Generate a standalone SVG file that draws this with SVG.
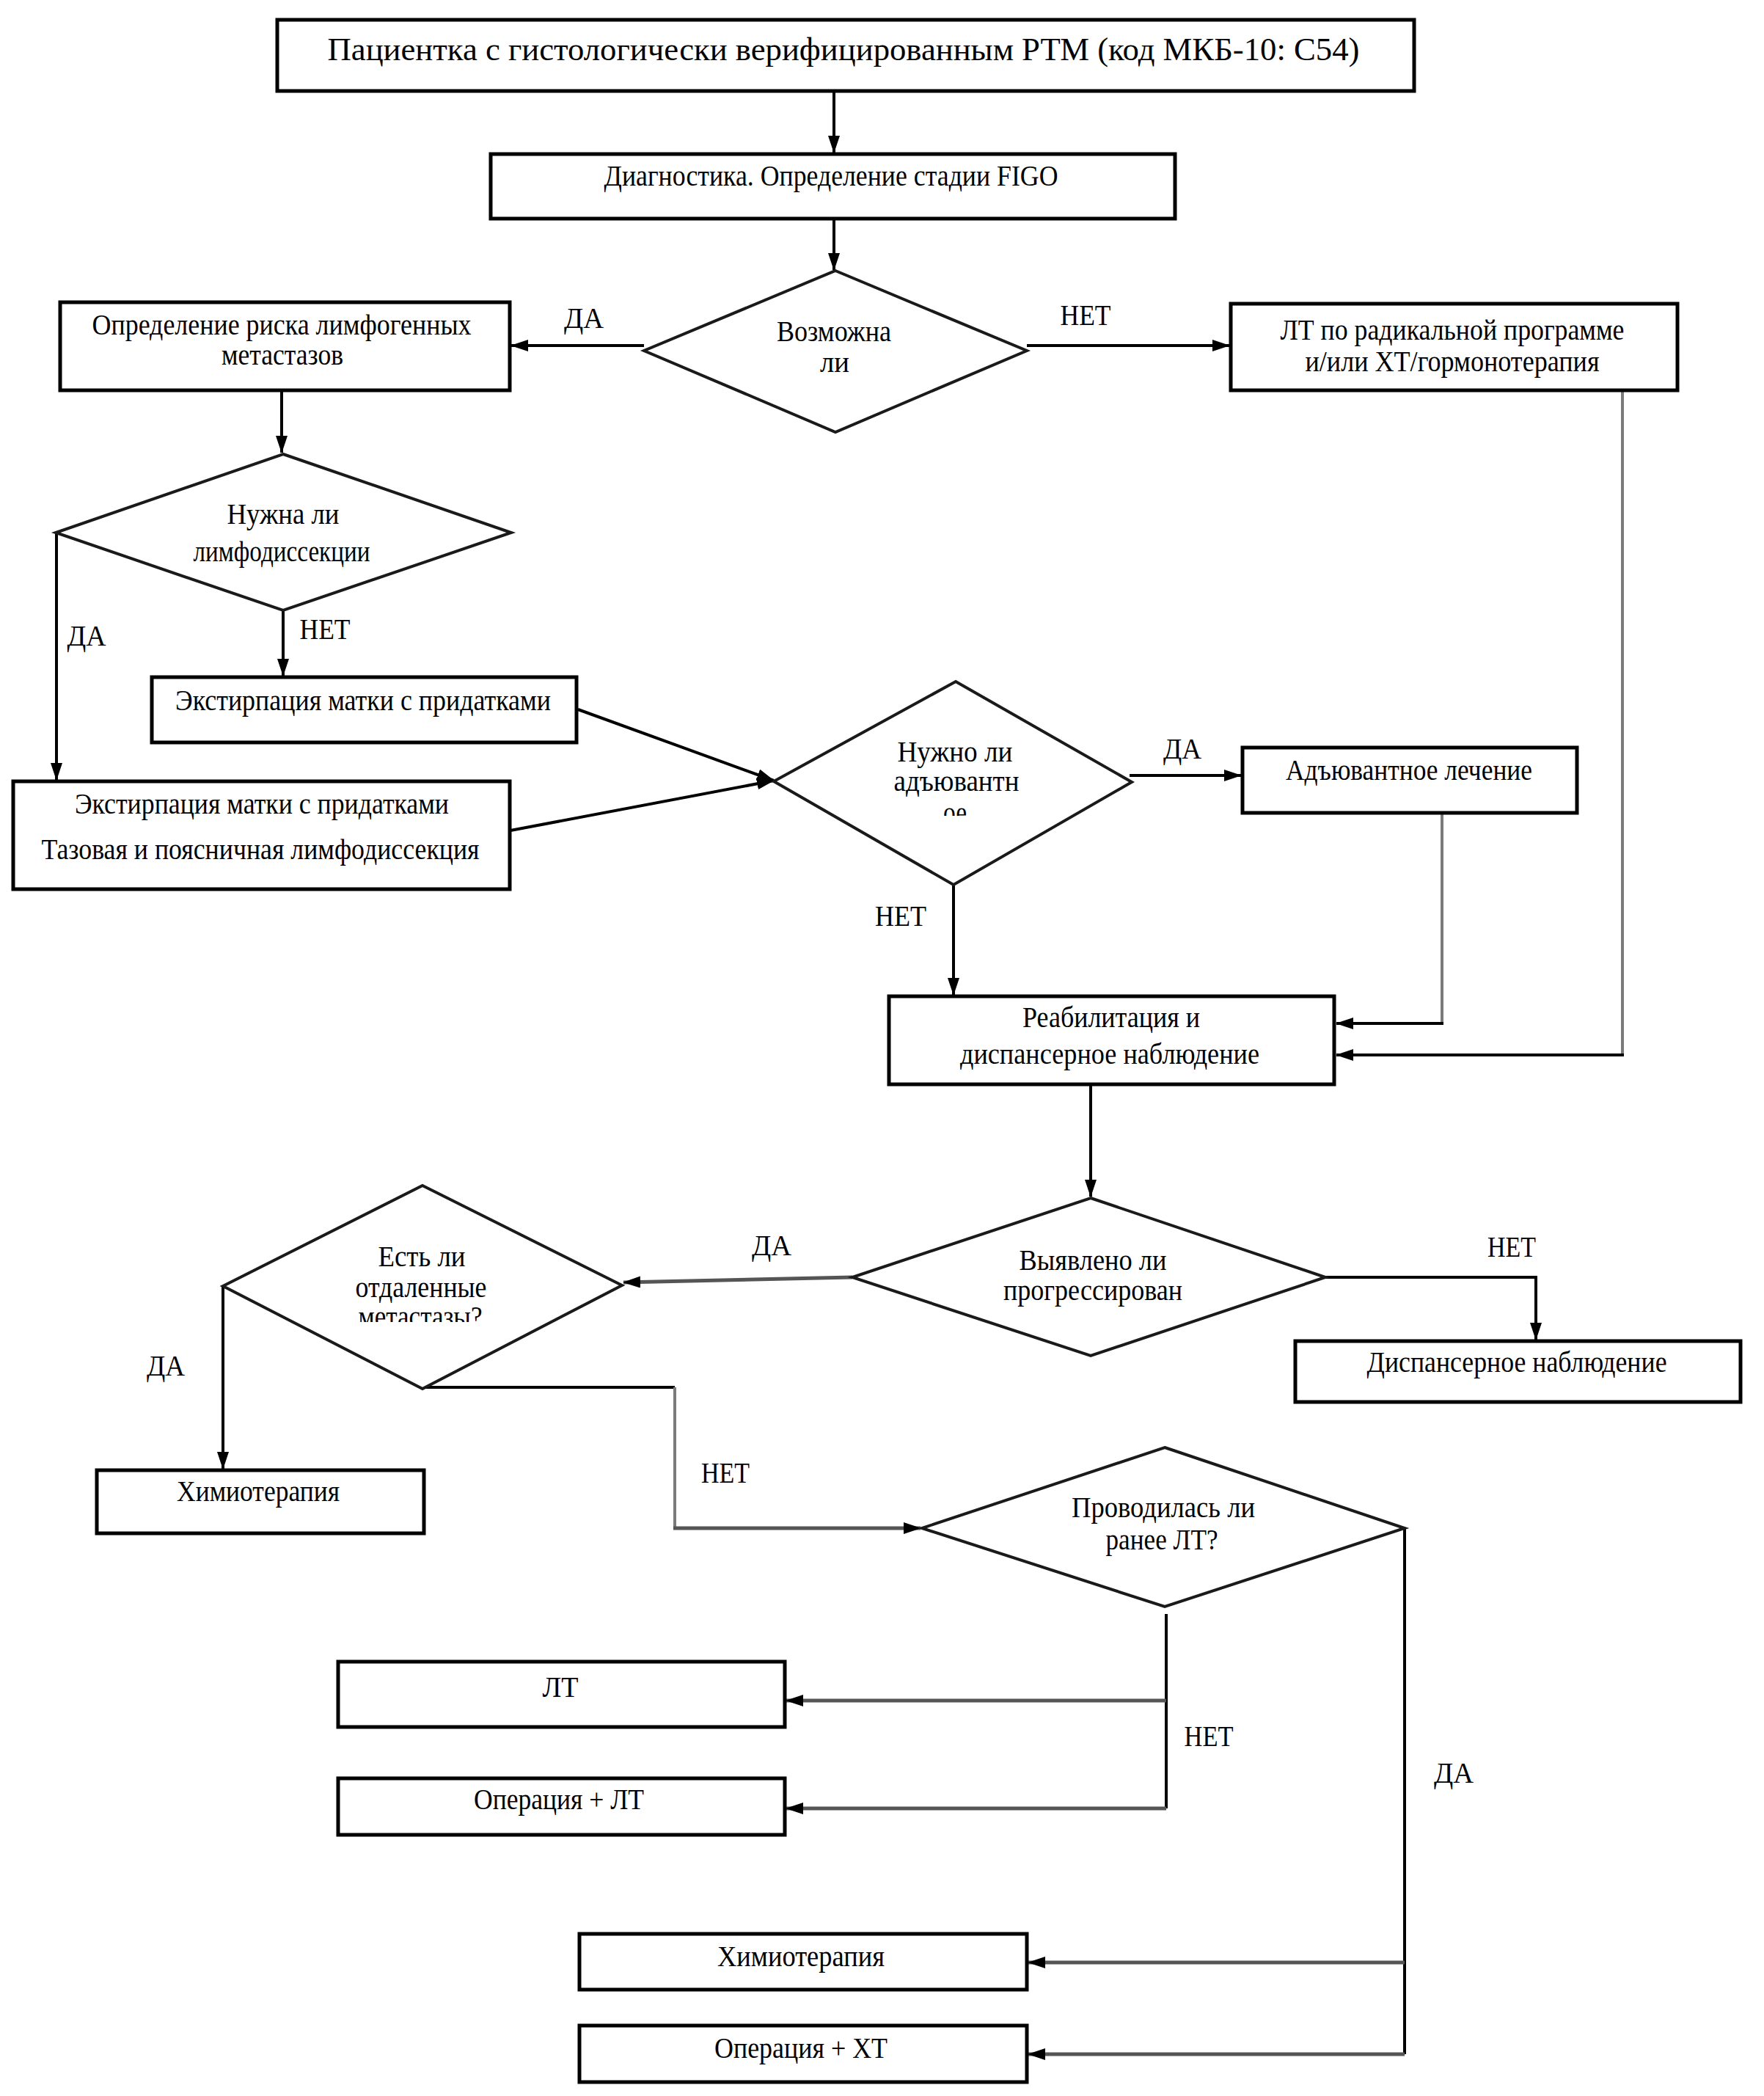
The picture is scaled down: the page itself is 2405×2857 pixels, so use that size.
<svg xmlns="http://www.w3.org/2000/svg" width="2405" height="2857" viewBox="0 0 2405 2857">
<style>
.bx{fill:#fff;stroke:#000;stroke-width:5}
.dm{fill:#fff;stroke:#1a1a1a;stroke-width:4}
.t{font-family:"Liberation Serif","Times New Roman",serif;font-size:40px;fill:#000;text-anchor:middle}
.c{fill:none;stroke:#000;stroke-width:4}
.g{fill:none;stroke:#7a7a7a;stroke-width:4}
.s{fill:none;stroke:#555;stroke-width:5}
</style>
<defs>
<marker id="ah" viewBox="0 0 24 16" refX="23" refY="8" markerWidth="24" markerHeight="16" markerUnits="userSpaceOnUse" orient="auto">
<path d="M0,0 L24,8 L0,16 z" fill="#000"/>
</marker>
<clipPath id="clip3"><rect x="1100" y="990" width="400" height="122"/></clipPath>
<clipPath id="clip5"><rect x="400" y="1680" width="350" height="122"/></clipPath>
</defs>
<rect width="2405" height="2857" fill="#fff"/>

<g id="connectors">
<path class="c" d="M1137,124 V208" marker-end="url(#ah)"/>
<path class="c" d="M1137,298 V368" marker-end="url(#ah)"/>
<path class="c" d="M878,471 H697" marker-end="url(#ah)"/>
<path class="c" d="M1400,471 H1676" marker-end="url(#ah)"/>
<path class="c" d="M384,532 V617" marker-end="url(#ah)"/>
<path class="c" d="M77,726 V1063" marker-end="url(#ah)"/>
<path class="c" d="M386,832 V921" marker-end="url(#ah)"/>
<path class="c" d="M788,967 L1055,1064" marker-end="url(#ah)"/>
<path class="c" d="M696,1132 L1055,1064" marker-end="url(#ah)"/>
<path class="c" d="M1540,1057 H1692" marker-end="url(#ah)"/>
<path class="c" d="M1300,1206 V1356" marker-end="url(#ah)"/>
<path class="g" d="M1966,1108 V1395"/>
<path class="c" d="M1968,1395 H1822" marker-end="url(#ah)"/>
<path class="g" d="M2212,532 V1438"/>
<path class="c" d="M2214,1438 H1822" marker-end="url(#ah)"/>
<path class="c" d="M1487,1478 V1631" marker-end="url(#ah)"/>
<path class="s" d="M1162,1741 L850,1748" marker-end="url(#ah)"/>
<path class="c" d="M1807,1741 H2094 V1826" marker-end="url(#ah)"/>
<path class="c" d="M304,1753 V2002" marker-end="url(#ah)"/>
<path class="c" d="M576,1891 H920"/>
<path class="g" d="M920,1891 V2083"/>
<path class="s" d="M918,2083 H1255" marker-end="url(#ah)"/>
<path class="c" d="M1590,2200 V2465"/>
<path class="s" d="M1590,2318 H1072" marker-end="url(#ah)"/>
<path class="s" d="M1590,2465 H1072" marker-end="url(#ah)"/>
<path class="c" d="M1915,2083 V2800"/>
<path class="s" d="M1915,2675 H1402" marker-end="url(#ah)"/>
<path class="s" d="M1915,2800 H1402" marker-end="url(#ah)"/>
</g>

<g id="labels">
<text class="t" x="796" y="447" textLength="54" lengthAdjust="spacingAndGlyphs">ДА</text>
<text class="t" x="1480" y="443" textLength="69" lengthAdjust="spacingAndGlyphs">НЕТ</text>
<text class="t" x="118" y="880" textLength="53" lengthAdjust="spacingAndGlyphs">ДА</text>
<text class="t" x="443" y="871" textLength="69" lengthAdjust="spacingAndGlyphs">НЕТ</text>
<text class="t" x="1612" y="1034" textLength="52" lengthAdjust="spacingAndGlyphs">ДА</text>
<text class="t" x="1228" y="1262" textLength="70" lengthAdjust="spacingAndGlyphs">НЕТ</text>
<text class="t" x="1052" y="1711" textLength="54" lengthAdjust="spacingAndGlyphs">ДА</text>
<text class="t" x="2061" y="1713" textLength="66" lengthAdjust="spacingAndGlyphs">НЕТ</text>
<text class="t" x="226" y="1875" textLength="52" lengthAdjust="spacingAndGlyphs">ДА</text>
<text class="t" x="989" y="2021" textLength="66" lengthAdjust="spacingAndGlyphs">НЕТ</text>
<text class="t" x="1648" y="2380" textLength="67" lengthAdjust="spacingAndGlyphs">НЕТ</text>
<text class="t" x="1982" y="2430" textLength="54" lengthAdjust="spacingAndGlyphs">ДА</text>
</g>

<g id="n1"><rect class="bx" x="378" y="27" width="1550" height="97"/>
<text class="t" x="1150" y="82" style="font-size:44px" textLength="1407" lengthAdjust="spacingAndGlyphs">Пациентка с гистологически верифицированным РТМ (код МКБ-10: С54)</text></g>

<g id="n2"><rect class="bx" x="669" y="210" width="933" height="88"/>
<text class="t" x="1133" y="253" textLength="619" lengthAdjust="spacingAndGlyphs">Диагностика. Определение стадии FIGO</text></g>

<g id="n3"><polygon class="dm" points="1139,369 1400,478 1139,589 878,478"/>
<text class="t" x="1137" y="465" textLength="156" lengthAdjust="spacingAndGlyphs">Возможна</text>
<text class="t" x="1138" y="507" textLength="40" lengthAdjust="spacingAndGlyphs">ли</text></g>

<g id="n4"><rect class="bx" x="82" y="412" width="613" height="120"/>
<text class="t" x="384" y="456" textLength="517" lengthAdjust="spacingAndGlyphs">Определение риска лимфогенных</text>
<text class="t" x="385" y="497" textLength="166" lengthAdjust="spacingAndGlyphs">метастазов</text></g>

<g id="n5"><rect class="bx" x="1678" y="414" width="609" height="118"/>
<text class="t" x="1980" y="463" textLength="469" lengthAdjust="spacingAndGlyphs">ЛТ по радикальной программе</text>
<text class="t" x="1980" y="506" textLength="401" lengthAdjust="spacingAndGlyphs">и/или ХТ/гормонотерапия</text></g>

<g id="n6"><polygon class="dm" points="386,619 697,726 386,832 76,726"/>
<text class="t" x="386" y="714" textLength="153" lengthAdjust="spacingAndGlyphs">Нужна ли</text>
<text class="t" x="384" y="765" textLength="241" lengthAdjust="spacingAndGlyphs">лимфодиссекции</text></g>

<g id="n7"><rect class="bx" x="207" y="923" width="579" height="89"/>
<text class="t" x="495" y="968" textLength="512" lengthAdjust="spacingAndGlyphs">Экстирпация матки с придатками</text></g>

<g id="n8"><rect class="bx" x="18" y="1065" width="677" height="147"/>
<text class="t" x="357" y="1109" textLength="510" lengthAdjust="spacingAndGlyphs">Экстирпация матки с придатками</text>
<text class="t" x="355" y="1171" textLength="597" lengthAdjust="spacingAndGlyphs">Тазовая и поясничная лимфодиссекция</text></g>

<g id="n9"><polygon class="dm" points="1303,929 1543,1066 1300,1206 1055,1065"/>
<text class="t" x="1302" y="1038" textLength="157" lengthAdjust="spacingAndGlyphs">Нужно ли</text>
<text class="t" x="1304" y="1078" textLength="171" lengthAdjust="spacingAndGlyphs">адъювантн</text>
<text class="t" x="1302" y="1121" clip-path="url(#clip3)" textLength="32" lengthAdjust="spacingAndGlyphs">ое</text></g>

<g id="n10"><rect class="bx" x="1694" y="1019" width="456" height="89"/>
<text class="t" x="1921" y="1063" textLength="336" lengthAdjust="spacingAndGlyphs">Адъювантное лечение</text></g>

<g id="n11"><rect class="bx" x="1212" y="1358" width="607" height="120"/>
<text class="t" x="1515" y="1400" textLength="242" lengthAdjust="spacingAndGlyphs">Реабилитация и</text>
<text class="t" x="1513" y="1450" textLength="408" lengthAdjust="spacingAndGlyphs">диспансерное наблюдение</text></g>

<g id="n12"><polygon class="dm" points="1487,1633 1807,1741 1487,1848 1162,1741"/>
<text class="t" x="1490" y="1731" textLength="201" lengthAdjust="spacingAndGlyphs">Выявлено ли</text>
<text class="t" x="1490" y="1772" textLength="244" lengthAdjust="spacingAndGlyphs">прогрессирован</text></g>

<g id="n13"><rect class="bx" x="1766" y="1828" width="607" height="83"/>
<text class="t" x="2068" y="1870" textLength="409" lengthAdjust="spacingAndGlyphs">Диспансерное наблюдение</text></g>

<g id="n14"><polygon class="dm" points="576,1616 848,1752 576,1893 304,1753"/>
<text class="t" x="575" y="1726" textLength="119" lengthAdjust="spacingAndGlyphs">Есть ли</text>
<text class="t" x="574" y="1768" textLength="179" lengthAdjust="spacingAndGlyphs">отдаленные</text>
<text class="t" x="573" y="1808" clip-path="url(#clip5)" textLength="169" lengthAdjust="spacingAndGlyphs">метастазы?</text></g>

<g id="n15"><rect class="bx" x="132" y="2004" width="446" height="86"/>
<text class="t" x="352" y="2046" textLength="222" lengthAdjust="spacingAndGlyphs">Химиотерапия</text></g>

<g id="n16"><polygon class="dm" points="1588,1973 1915,2083 1588,2190 1257,2083"/>
<text class="t" x="1586" y="2068" textLength="250" lengthAdjust="spacingAndGlyphs">Проводилась ли</text>
<text class="t" x="1584" y="2112" textLength="153" lengthAdjust="spacingAndGlyphs">ранее ЛТ?</text></g>

<g id="n17"><rect class="bx" x="461" y="2265" width="609" height="89"/>
<text class="t" x="764" y="2313" textLength="49" lengthAdjust="spacingAndGlyphs">ЛТ</text></g>

<g id="n18"><rect class="bx" x="461" y="2424" width="609" height="77"/>
<text class="t" x="762" y="2466" textLength="232" lengthAdjust="spacingAndGlyphs">Операция + ЛТ</text></g>

<g id="n19"><rect class="bx" x="790" y="2636" width="610" height="76"/>
<text class="t" x="1092" y="2680" textLength="228" lengthAdjust="spacingAndGlyphs">Химиотерапия</text></g>

<g id="n20"><rect class="bx" x="790" y="2761" width="610" height="77"/>
<text class="t" x="1092" y="2805" textLength="236" lengthAdjust="spacingAndGlyphs">Операция + ХТ</text></g>
</svg>
